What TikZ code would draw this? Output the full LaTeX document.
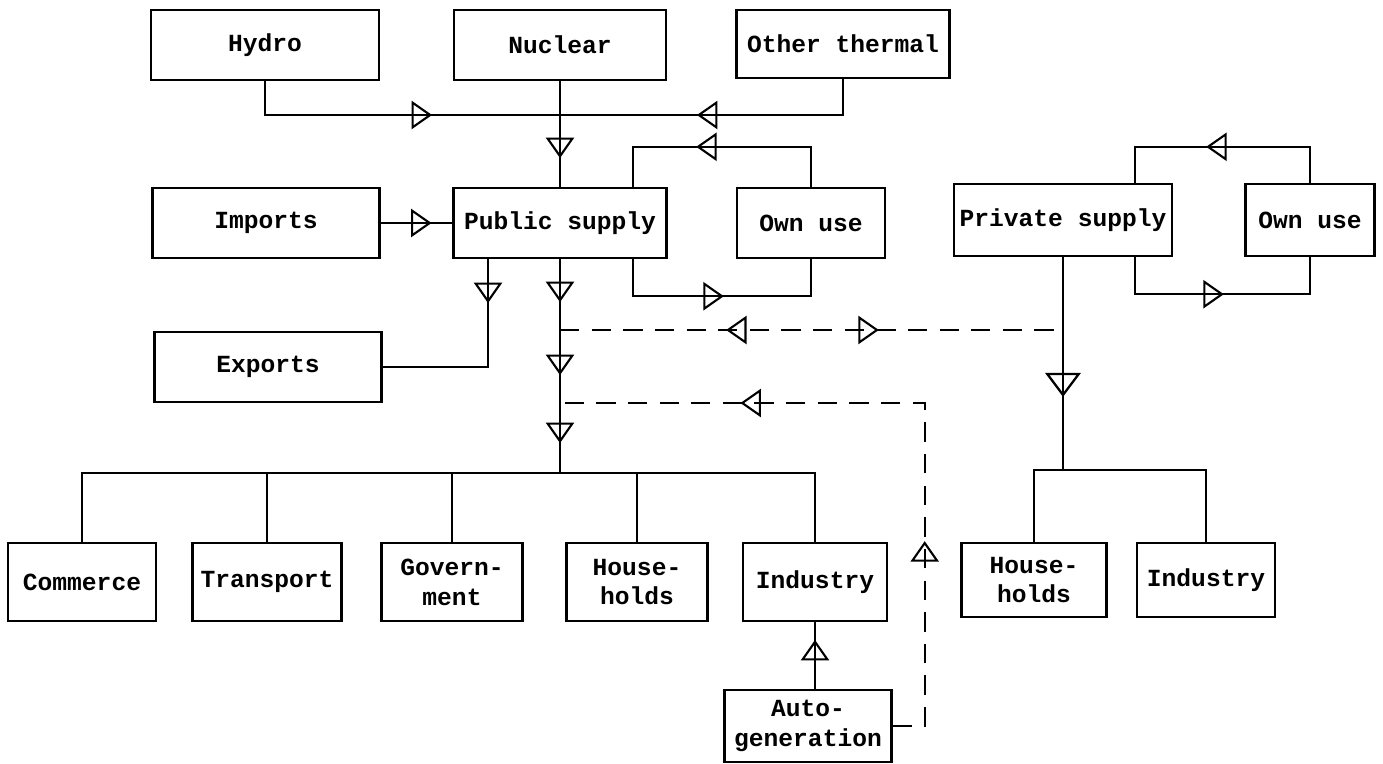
\documentclass[tikz,border=0pt]{standalone}
\usepackage{fontspec}
\setmainfont{Liberation Mono}
\usetikzlibrary{calc,decorations.markings}

\tikzset{
  box/.style={draw=black, line width=1.4pt, inner sep=0pt, align=center,
    font=\fontsize{14}{17}\selectfont\bfseries},
  flow/.style={draw=black, line width=1.3pt},
  dashline/.style={dash pattern=on 11pt off 7pt},
  tri/.style={postaction={decorate,decoration={markings,
    mark=at position #1 with {\draw[solid,line width=1.2pt] (-6pt,-7pt) -- (4pt,0pt) -- (-6pt,7pt) -- cycle;}}}},
  irt/.style={postaction={decorate,decoration={markings,
    mark=at position #1 with {\draw[solid,line width=1.2pt] (6pt,-7pt) -- (-4pt,0pt) -- (6pt,7pt) -- cycle;}}}},
  bigtri/.style={postaction={decorate,decoration={markings,
    mark=at position #1 with {\draw[solid,line width=1.3pt] (-7pt,-9pt) -- (5pt,0pt) -- (-7pt,9pt) -- cycle;}}}},
}

\begin{document}
\begin{tikzpicture}[x=0.02cm, y=-0.02cm]

	\useasboundingbox (0,0) rectangle (1383,764);

	% sources
	\node[box, minimum width=4.56cm, minimum height=1.4cm]  (hydro)    at (265,45)  {Hydro};
	\node[box, minimum width=4.24cm, minimum height=1.4cm]  (nuclear)  at (560,45)  {Nuclear};
	\node[box, minimum width=4.26cm, minimum height=1.36cm] (thermal)  at (843,44)  {Other thermal};

	% supply
	\node[box, minimum width=4.54cm, minimum height=1.4cm]  (imports)  at (266,223) {Imports};
	\node[box, minimum width=4.26cm, minimum height=1.4cm]  (public)   at (560,223) {Public supply};
	\node[box, minimum width=2.96cm, minimum height=1.4cm]  (ownpub)   at (811,223) {Own use};
	\node[box, minimum width=4.36cm, minimum height=1.44cm] (private)  at (1063,220) {Private supply};
	\node[box, minimum width=2.58cm, minimum height=1.44cm] (ownpriv)  at (1310,220) {Own use};
	\node[box, minimum width=4.54cm, minimum height=1.4cm]  (exports)  at (268,367) {Exports};

	% consumers
	\node[box, minimum width=2.96cm, minimum height=1.56cm] (commerce)   at (82,582)  {Commerce};
	\node[box, minimum width=2.98cm, minimum height=1.56cm] (transport)  at (267,582) {Transport};
	\node[box, minimum width=2.82cm, minimum height=1.56cm] (government) at (452,582) {Govern-\\ment};
	\node[box, minimum width=2.82cm, minimum height=1.56cm] (households) at (637,582) {House-\\holds};
	\node[box, minimum width=2.88cm, minimum height=1.56cm] (industry)   at (815,582) {Industry};
	\node[box, minimum width=3.34cm, minimum height=1.44cm] (autogen)    at (808,726) {Auto-\\generation};
	\node[box, minimum width=2.9cm,  minimum height=1.48cm] (privhh)     at (1034,580) {House-\\holds};
	\node[box, minimum width=2.76cm, minimum height=1.48cm] (privind)    at (1206,580) {Industry};

	\coordinate (hub)  at (560,115);
	\coordinate (tap1) at (560,330);
	\coordinate (tap2) at (560,403);
	\coordinate (bus)  at (560,473);
	\coordinate (pbus) at (1063,470);

	% public side
	\draw[flow, tri=3.84cm] (hydro.south) |- (hub);
	\draw[flow, tri=3.46cm] (thermal.south) |- (hub);
	\draw[flow, tri=1.36cm] (nuclear.south) -- (public.north);
	\draw[flow, tri=0.84cm] (imports.east) -- (public.west);
	\draw[flow, tri=2.92cm] (ownpub.north) |- ([xshift=1.46cm,yshift=0.8cm]public.north) -- ([xshift=1.46cm]public.north);
	\draw[flow, tri=2.38cm] ([xshift=1.46cm]public.south) -- ++(0,37) -| (ownpub.south);
	\draw[flow, tri=0.7cm] ([xshift=-1.44cm]public.south) |- (exports.east);
	\draw[flow, tri=0.68cm, tri=2.14cm, tri=3.5cm] (public.south) -- (bus);
	\draw[flow] (commerce.north) |- (bus) -| (industry.north);
	\foreach \n in {transport, government, households}
		\draw[flow] (\n.north) -- (\n.north |- bus);
	\draw[flow, tri=0.8cm] (autogen.north -| industry.south) -- (industry.south);
	\draw[flow, dashline, tri=4.16cm, tri=10.61cm] (autogen.east) -- ++(32,0) |- (tap2);
	\draw[flow, dashline, irt=3.5cm, tri=6.2cm] (tap1) -- (tap1 -| private.south);

	% private side
	\draw[flow, tri=2.62cm] (ownpriv.north) |- ([xshift=1.44cm,yshift=0.72cm]private.north) -- ([xshift=1.44cm]private.north);
	\draw[flow, tri=2.34cm] ([xshift=1.44cm]private.south) -- ++(0,37) -| (ownpriv.south);
	\draw[flow, bigtri=2.58cm] (private.south) -- (pbus);
	\draw[flow] (privhh.north) |- (pbus) -| (privind.north);

\end{tikzpicture}
\end{document}
